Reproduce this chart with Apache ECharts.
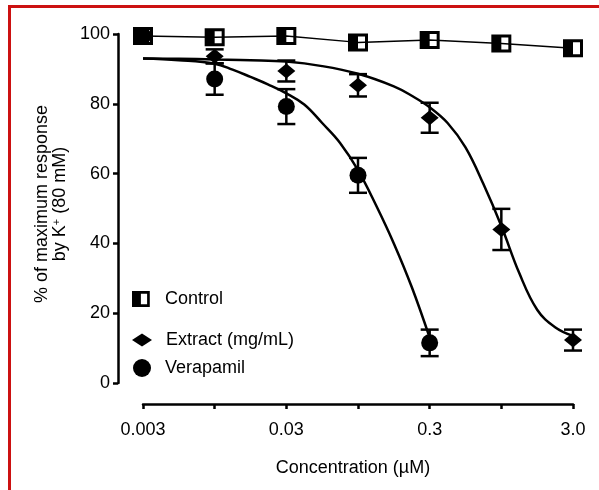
<!DOCTYPE html>
<html>
<head>
    <meta charset="UTF-8">
    <title>Concentration response</title>
    <style>
        html, body { margin: 0; padding: 0; background: #fff; }
        #main { width: 599px; height: 490px; }
    </style>
</head>
<body>
    <div id="main"></div>
    <script src="https://cdn.jsdelivr.net/npm/echarts@6/dist/echarts.min.js"></script>
    <script>
        // x positions are half-log steps: 0.003, ~0.01, 0.03, ~0.1, 0.3, ~1, 3.0
        var doseSteps = [0, 1, 2, 3, 4, 5, 6];
        var doseLabels = ['0.003', '', '0.03', '', '0.3', '', '3.0'];
        var yTicks = [0, 20, 40, 60, 80, 100];

        var controlMean = [99.4, 99.1, 99.4, 97.6, 98.3, 97.3, 95.9];

        var extractMean = [99.4, 93.6, 89.4, 85.3, 76.0, 44.0, 12.3];
        var extractSem = [0, 2.0, 3.0, 3.2, 4.3, 5.9, 3.0];

        var verapamilMean = [99.4, 87.1, 79.2, 59.5, 11.5];
        var verapamilSem = [0, 4.5, 5.0, 5.0, 3.8];

        // fitted curves
        var extractFitX = [0, 0.5, 1, 1.5, 2, 2.5, 3, 3.5, 3.75, 4, 4.25, 4.5, 4.75, 5, 5.25, 5.5, 5.75, 6];
        var extractFitY = [93, 92.9, 92.7, 92.5, 92.1, 90.8, 88.6, 85.0, 82.3, 79, 74.5, 67.5, 57, 45, 31.5, 21, 16, 13.5];
        var verapamilFitX = [0, 0.5, 1, 1.25, 1.5, 1.75, 2, 2.25, 2.5, 2.75, 3, 3.25, 3.5, 3.75, 4];
        var verapamilFitY = [93, 92.5, 91.5, 89.8, 87.7, 85.5, 83, 79.8, 74.5, 68.8, 61, 51, 40, 27.5, 13];

        var FONT = '"Liberation Sans", Arial, sans-serif';
        var FS = 18;
        var halfSquare = 'path://M0,0L20,0L20,18L0,18Z M10,3L10,15L17,15L17,3Z';

        function pairs(xs, ys) {
            return ys.map(function (v, i) { return [xs[i], v]; });
        }
        function bars(mean, sem) {
            var out = [];
            for (var i = 0; i < mean.length; i++) {
                if (sem[i] > 0) out.push([doseSteps[i], mean[i] - sem[i], mean[i] + sem[i]]);
            }
            return out;
        }
        function renderErrorBar(params, api) {
            var lo = api.coord([api.value(0), api.value(1)]);
            var hi = api.coord([api.value(0), api.value(2)]);
            var w = 9;
            var st = { stroke: '#000', lineWidth: 2.5 };
            return {
                type: 'group',
                children: [
                    { type: 'line', shape: { x1: hi[0], y1: hi[1], x2: lo[0], y2: lo[1] }, style: st },
                    { type: 'line', shape: { x1: hi[0] - w, y1: hi[1], x2: hi[0] + w, y2: hi[1] }, style: st },
                    { type: 'line', shape: { x1: lo[0] - w, y1: lo[1], x2: lo[0] + w, y2: lo[1] }, style: st }
                ]
            };
        }

        var legendText = { fontFamily: FONT, fontSize: FS, color: '#000', padding: [0, 0, 0, 9] };

        var app = echarts.init(document.getElementById('main'));
        var option = {
            animation: false,
            backgroundColor: '#fff',
            grid: { left: 143, right: 26, top: 34, bottom: 107, containLabel: false },
            graphic: [
                { type: 'rect', shape: { x: 8, y: 5, width: 591, height: 3 }, style: { fill: '#cc1111' }, silent: true },
                { type: 'rect', shape: { x: 8, y: 5, width: 3, height: 485 }, style: { fill: '#cc1111' }, silent: true }
            ],
            legend: [
                {
                    left: 132, top: 290, padding: 0, itemWidth: 20, itemHeight: 16,
                    data: [{ name: 'Control', icon: halfSquare }],
                    textStyle: legendText, selectedMode: false
                },
                {
                    left: 132, top: 331, padding: 0, itemWidth: 20, itemHeight: 13,
                    data: [{ name: 'Extract (mg/mL)', icon: 'diamond' }],
                    textStyle: legendText, selectedMode: false
                },
                {
                    left: 133, top: 359, padding: 0, itemWidth: 18, itemHeight: 18,
                    data: [{ name: 'Verapamil', icon: 'circle' }],
                    textStyle: legendText, selectedMode: false
                }
            ],
            xAxis: {
                type: 'value',
                min: 0,
                max: 6,
                interval: 1,
                offset: 21,
                name: 'Concentration (µM)',
                nameLocation: 'middle',
                nameGap: 55,
                nameTextStyle: { fontFamily: FONT, fontSize: FS, color: '#000', padding: [0, 10, 0, 0] },
                axisLine: { show: true, onZero: false, lineStyle: { color: '#000', width: 2.5 } },
                axisTick: { show: true, length: 5, lineStyle: { color: '#000', width: 2.5 } },
                axisLabel: {
                    margin: 17, fontFamily: FONT, fontSize: FS, color: '#000',
                    formatter: function (v) { return doseLabels[Math.round(v)] || ''; }
                },
                splitLine: { show: false }
            },
            yAxis: {
                type: 'value',
                min: yTicks[0],
                max: yTicks[yTicks.length - 1],
                interval: 20,
                offset: 25,
                name: '% of maximum response\nby K{sup|+} (80 mM)',
                nameLocation: 'middle',
                nameGap: 49,
                nameTextStyle: {
                    fontFamily: FONT, fontSize: FS, color: '#000', lineHeight: 18, padding: [0, 0, 0, 9],
                    rich: { sup: { fontFamily: FONT, fontSize: 11, color: '#000', verticalAlign: 'top', lineHeight: 18 } }
                },
                axisLine: { show: true, onZero: false, lineStyle: { color: '#000', width: 2.5 } },
                axisTick: { show: true, length: 5, lineStyle: { color: '#000', width: 2.5 } },
                axisLabel: { margin: 8, fontFamily: FONT, fontSize: FS, color: '#000' },
                splitLine: { show: false }
            },
            series: [
                {
                    name: 'extract fit', type: 'line', data: pairs(extractFitX, extractFitY),
                    showSymbol: false, smooth: 0.4, silent: true, z: 2,
                    lineStyle: { color: '#000', width: 2.5 }
                },
                {
                    name: 'verapamil fit', type: 'line', data: pairs(verapamilFitX, verapamilFitY),
                    showSymbol: false, smooth: 0.4, silent: true, z: 2,
                    lineStyle: { color: '#000', width: 2.5 }
                },
                {
                    name: 'extract sem', type: 'custom', renderItem: renderErrorBar,
                    data: bars(extractMean, extractSem), silent: true, z: 3
                },
                {
                    name: 'verapamil sem', type: 'custom', renderItem: renderErrorBar,
                    data: bars(verapamilMean, verapamilSem), silent: true, z: 3
                },
                {
                    name: 'Extract (mg/mL)', type: 'scatter', data: pairs(doseSteps, extractMean),
                    symbol: 'diamond', symbolSize: [18, 15], itemStyle: { color: '#000', opacity: 1 }, z: 4
                },
                {
                    name: 'Verapamil', type: 'scatter', data: pairs(doseSteps, verapamilMean),
                    symbol: 'circle', symbolSize: 17, itemStyle: { color: '#000', opacity: 1 }, z: 4
                },
                {
                    name: 'Control', type: 'line', data: pairs(doseSteps, controlMean),
                    symbol: halfSquare, symbolSize: [20, 18], showAllSymbol: true, z: 5,
                    itemStyle: { color: '#000', opacity: 1 },
                    lineStyle: { color: '#000', width: 1.5 }
                }
            ]
        };
        app.setOption(option);
        window.addEventListener('resize', function () { app.resize(); });
    </script>
</body>
</html>
